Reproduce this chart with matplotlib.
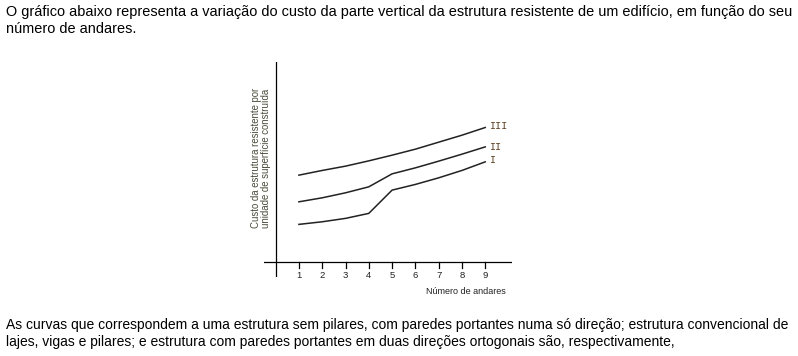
import matplotlib.pyplot as plt

# Dados (custo em unidades arbitrárias)
andares = [1, 2, 3, 4, 5, 6, 7, 8, 9]
custo_III = [86.7, 91.4, 95.7, 101.0, 106.7, 112.7, 119.7, 126.7, 134.4]
custo_II = [60.0, 64.0, 69.0, 75.0, 88.0, 94.0, 100.7, 107.7, 115.0]
custo_I = [37.4, 40.0, 43.4, 48.4, 71.7, 77.4, 84.0, 91.4, 100.0]
rotulos = ["III", "II", "I"]

plt.rcParams["font.family"] = ["Liberation Sans", "DejaVu Sans"]

fig = plt.figure(figsize=(7.98, 3.56), dpi=100)

# textos do enunciado
fig.text(6 / 798, 1 - 12 / 356,
         "O gráfico abaixo representa a variação do custo da parte vertical da estrutura "
         "resistente de um edifício, em função do seu",
         fontsize=10.45, va="center", ha="left", color="black")
fig.text(6 / 798, 1 - 29 / 356, "número de andares.",
         fontsize=10.45, va="center", ha="left", color="black")
fig.text(6 / 798, 1 - 325 / 356,
         "As curvas que correspondem a uma estrutura sem pilares, com paredes portantes numa só "
         "direção; estrutura convencional de",
         fontsize=10.0, va="center", ha="left", color="black")
fig.text(6 / 798, 1 - 342 / 356,
         "lajes, vigas e pilares; e estrutura com paredes portantes em duas direções ortogonais "
         "são, respectivamente,",
         fontsize=10.0, va="center", ha="left", color="black")

ax = fig.add_axes([264 / 798, 1 - 277 / 356, (512 - 264) / 798, (277 - 62) / 356])
ax.set_xlim(-0.5, 10.15)
ax.set_ylim(-15.3, 200)
for s in ax.spines.values():
    s.set_visible(False)
ax.set_xticks([])
ax.set_yticks([])
ax.patch.set_alpha(0)

# eixos desenhados à mão
ax.axhline(0, color="black", lw=0.9)
ax.axvline(0, color="black", lw=0.9)
for a in andares:
    ax.plot([a, a], [0, -6.5], color="black", lw=0.9)
    ax.text(a, -13.5, str(a), fontsize=6.8, ha="center", va="center", color="#222222")

ax.plot(andares, custo_III, color="#222222", lw=1.1)
ax.plot(andares, custo_II, color="#222222", lw=1.1)
ax.plot(andares, custo_I, color="#222222", lw=1.1)

ax.text(9.15, custo_III[-1] + 2, rotulos[0], fontsize=7.3, family="Liberation Mono",
        color="#5a4020", ha="left", va="center")
ax.text(9.15, custo_II[-1] - 0.5, rotulos[1], fontsize=7.3, family="Liberation Mono",
        color="#5a4020", ha="left", va="center")
ax.text(9.15, custo_I[-1] + 1.5, rotulos[2], fontsize=7.3, family="Liberation Mono",
        color="#5a4020", ha="left", va="center")

fig.text(506 / 798, 1 - 292 / 356, "Número de andares", fontsize=6.5,
         ha="right", va="center", color="#222222")
fig.text(261 / 798, 1 - 158 / 356,
         "Custo da estrutura resistente por\nunidade de superfície construída",
         fontsize=6.9, rotation=90, ha="center", va="center", color="#4a4a3a",
         linespacing=1.0)

fig.savefig("out.png", dpi=100)
